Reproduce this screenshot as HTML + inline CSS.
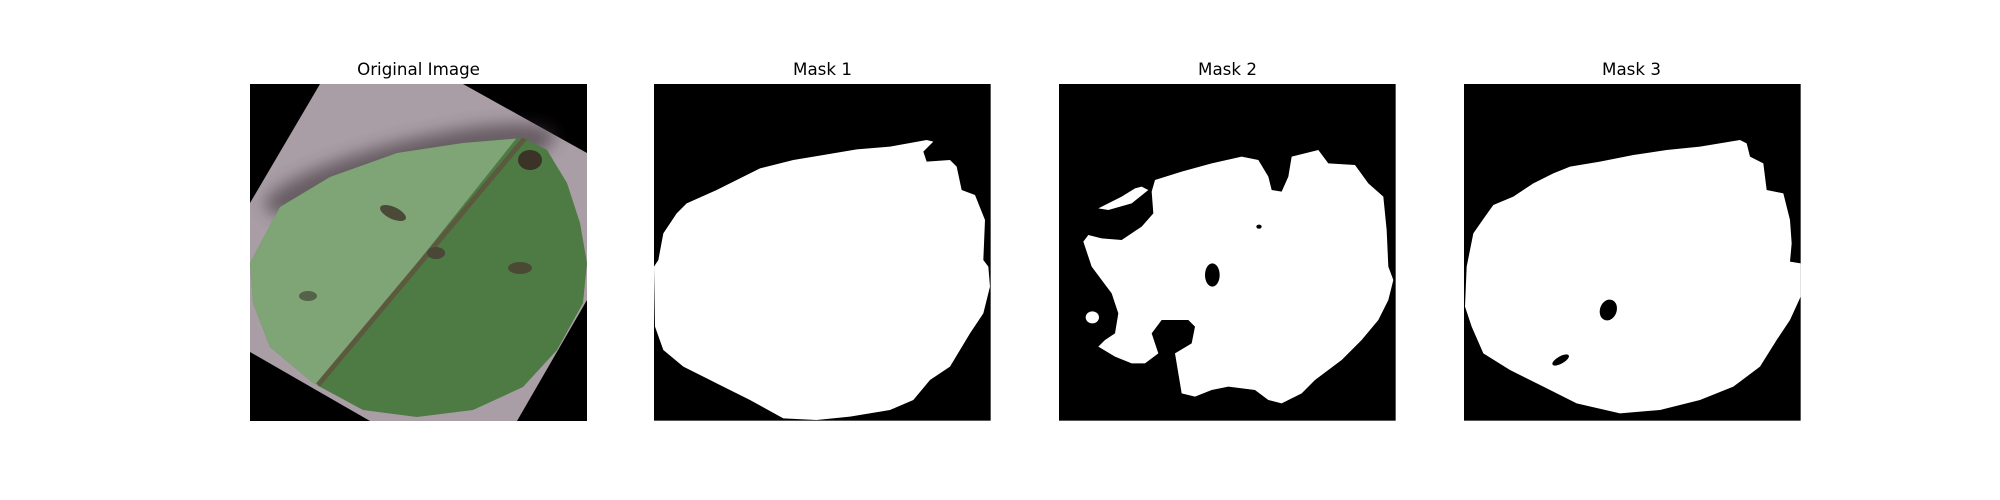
<!DOCTYPE html>
<html><head><meta charset="utf-8"><style>
html,body{margin:0;padding:0;background:#fff;}
svg{display:block;}
text{font-family:"DejaVu Sans","Liberation Sans",sans-serif;font-size:16.7px;fill:#000;}
</style></head><body>
<svg width="2000" height="500" viewBox="0 0 2000 500">
<defs>
<clipPath id="leafclip"><path d="M250,263 L280,207 L330,177 L397,153 L463,143 L523,138 L547,150 L567,183 L580,223 L587,263 L583,303 L557,350 L523,387 L473,410 L417,417 L363,410 L313,383 L270,347 L253,303 Z"/></clipPath>
<clipPath id="p1clip"><rect x="250" y="84" width="337" height="337"/></clipPath>
<filter id="blur" x="-20%" y="-50%" width="140%" height="200%"><feGaussianBlur stdDeviation="8"/></filter>
</defs>
<rect width="2000" height="500" fill="#fff"/>

<!-- Panel 1 -->
<g clip-path="url(#p1clip)">
<rect x="250" y="84" width="337" height="337" fill="#000"/>
<polygon points="320,84 463,84 587,153 587,300 517,421 370,421 250,352 250,203" fill="#a99ea6"/>
<ellipse cx="410" cy="170" rx="150" ry="30" fill="#3e3338" opacity="0.6" filter="url(#blur)" transform="rotate(-14 410 170)"/>
<g clip-path="url(#leafclip)">
<rect x="240" y="130" width="360" height="300" fill="#4e7a44"/>
<polygon points="240,130 523,130 320,385 240,385" fill="#7fa577"/>
<line x1="525" y1="138" x2="318" y2="385" stroke="#5b5a3e" stroke-width="5"/>
<ellipse cx="393" cy="213" rx="14" ry="6" fill="#4b4a38" transform="rotate(25 393 213)"/>
<ellipse cx="530" cy="160" rx="12" ry="10" fill="#3b3328"/>
<ellipse cx="520" cy="268" rx="12" ry="6" fill="#4a4a34"/>
<ellipse cx="308" cy="296" rx="9" ry="5" fill="#556148"/>
<ellipse cx="436" cy="253" rx="9" ry="6" fill="#4a4638"/>
</g>
</g>
<text x="418.5" y="75" text-anchor="middle">Original Image</text>

<!-- Panel 2: Mask 1 -->
<g transform="translate(650,80) scale(0.33333)">
<rect x="12" y="12" width="1010" height="1010" fill="#000"/>
<path fill="#fff" d="M40,460 L80,400 L110,370 L200,330 L260,300 L330,265 L430,240 L520,225 L620,208 L720,200 L830,180 L850,185 L820,215 L830,245 L900,240 L920,260 L935,330 L975,345 L1005,420 L1000,540 L1015,560 L1020,620 L1000,700 L960,760 L900,860 L840,900 L790,960 L720,990 L600,1010 L500,1020 L400,1015 L300,960 L200,910 L100,860 L40,810 L15,740 L12,560 L25,540 Z"/>
</g>
<text x="822.5" y="75" text-anchor="middle">Mask 1</text>

<!-- Panel 3: Mask 2 -->
<g transform="translate(1055,80) scale(0.33333)">
<rect x="12" y="12" width="1010" height="1010" fill="#000"/>
<path fill="#fff" d="M85,485 L100,465 L140,475 L200,480 L260,440 L295,400 L290,335 L300,300 L380,275 L470,250 L560,230 L610,240 L640,290 L650,330 L680,335 L700,290 L710,230 L790,210 L820,250 L900,255 L940,310 L985,350 L995,450 L1000,560 L1015,600 L1000,660 L970,720 L920,780 L860,840 L780,900 L740,940 L680,970 L640,960 L600,930 L520,920 L470,930 L420,950 L380,940 L370,880 L360,820 L410,790 L420,740 L400,720 L320,720 L290,760 L310,820 L270,850 L230,850 L180,830 L130,800 L150,780 L180,760 L190,700 L170,640 L140,600 L110,560 Z"/>
<path fill="#fff" d="M130,385 L200,350 L240,325 L260,320 L280,330 L230,370 L160,390 Z"/>
<ellipse cx="112" cy="712" rx="20" ry="18" fill="#fff"/>
<ellipse cx="472" cy="585" rx="22" ry="35" fill="#000"/>
<ellipse cx="612" cy="440" rx="8" ry="6" fill="#000"/>
</g>
<text x="1227.5" y="75" text-anchor="middle">Mask 2</text>

<!-- Panel 4: Mask 3 -->
<g transform="translate(1460,80) scale(0.33333)">
<rect x="12" y="12" width="1010" height="1010" fill="#000"/>
<path fill="#fff" d="M20,560 L40,460 L75,410 L100,375 L160,350 L220,310 L280,280 L330,260 L420,245 L520,225 L620,210 L720,200 L840,180 L860,190 L870,230 L910,250 L920,330 L970,340 L990,420 L995,490 L990,545 L1022,550 L1022,650 L990,720 L950,780 L900,860 L820,920 L720,960 L600,990 L480,1000 L350,970 L250,920 L150,870 L70,820 L35,740 L15,680 Z"/>
<ellipse cx="445" cy="690" rx="25" ry="32" fill="#000" transform="rotate(20 445 690)"/>
<ellipse cx="302" cy="840" rx="28" ry="11" fill="#000" transform="rotate(-30 302 840)"/>
</g>
<text x="1631.5" y="75" text-anchor="middle">Mask 3</text>
</svg>
</body></html>
